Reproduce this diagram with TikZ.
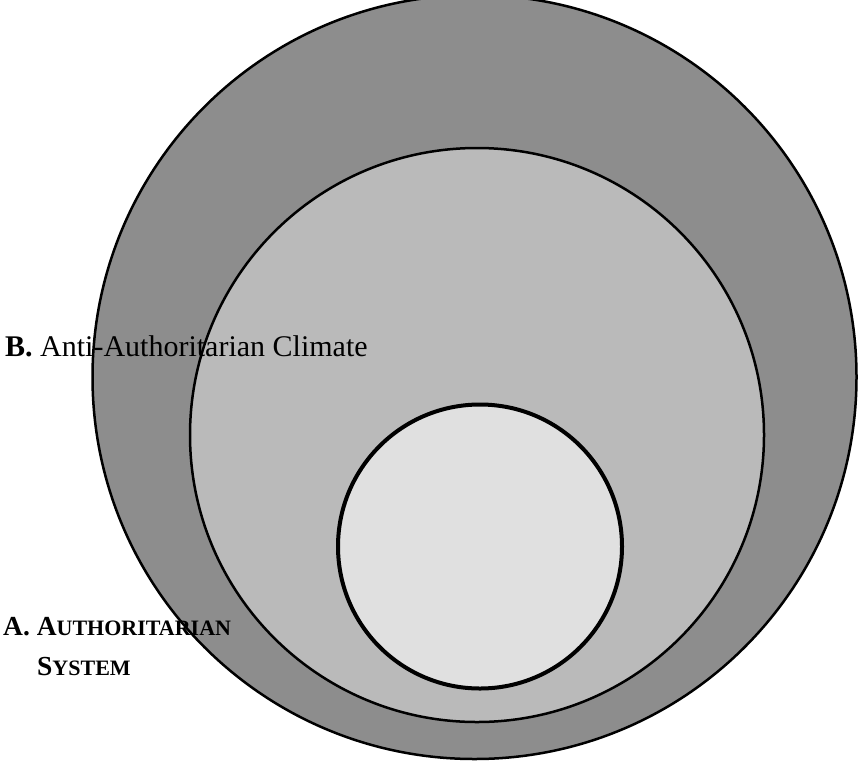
\documentclass[tikz,border=0pt]{standalone}
\usepackage{fontspec}
\setmainfont{Liberation Serif}
\begin{document}
\begin{tikzpicture}[x=1pt,y=-1pt,
  ring/.style={line width=2.5pt},
  core/.style={line width=4pt},
  lbl/.style={anchor=base west,inner sep=0pt,font=\fontsize{30}{34}\selectfont},
  sclbl/.style={anchor=base west,inner sep=0pt,font=\bfseries\fontsize{27.5}{32}\selectfont}]
\useasboundingbox (0,0) rectangle (858,763);
\clip (0,0) rectangle (858,763);
\coordinate (co) at (474.5,377);
\coordinate (cm) at (477,435);
\coordinate (ci) at (480,546.5);
\fill[fill={rgb,255:red,141;green,141;blue,141}] (co) circle[radius=382];
\fill[fill={rgb,255:red,186;green,186;blue,186}] (cm) circle[radius=287];
\fill[fill={rgb,255:red,224;green,224;blue,224}] (ci) circle[radius=142];
\node[lbl] (b) at (5,356) {\textbf{B.} Anti-Authoritarian Climate};
\node[sclbl] (a) at (3,635) {A. A{\fontsize{22}{26}\selectfont UTHORITARIAN}};
\node[sclbl] (s) at (37,675) {S{\fontsize{22}{26}\selectfont YSTEM}};
\draw[ring] (co) circle[radius=382];
\draw[ring] (cm) circle[radius=287];
\draw[core] (ci) circle[radius=142];
\end{tikzpicture}
\end{document}
